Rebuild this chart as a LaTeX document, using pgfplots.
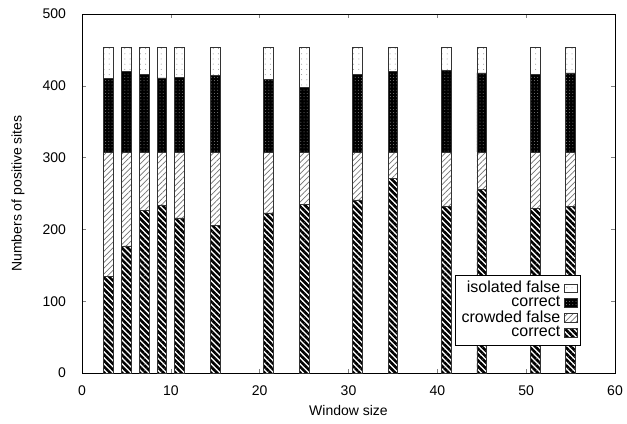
\documentclass[border=0pt]{standalone}
\usepackage{fontspec}
\setmainfont{Liberation Sans}
\usepackage{pgfplots}
\usepackage{pgfplotstable}
\pgfplotsset{compat=1.18}
\usetikzlibrary{patterns.meta}

% window size, correct, crowded false, correct, isolated false
\pgfplotstableread{
x   ca   cf   cb   iso
3   135  173  102  43
5   177  131  112  33
7   227  81   108  37
9   234  74   103  42
11  216  92   104  41
15  205  103  107  38
21  223  85   101  44
25  235  73   90   55
31  241  67   108  37
35  271  37   112  33
41  232  76   114  31
45  256  52   110  35
51  229  79   108  37
55  232  76   110  35
}\sites

\begin{document}
\begin{tikzpicture}
\begin{axis}[
  scale only axis,
  width=266.5pt, height=179.5pt,
  ybar stacked,
  bar width=1.1,
  xmin=0, xmax=60, ymin=0, ymax=500,
  xtick={0,10,...,60},
  ytick={0,100,...,500},
  tick align=inside,
  major tick length=2.2pt,
  axis line style={line width=0.5pt},
  font=\fontsize{7}{8}\selectfont,
  /pgf/number format/assume math mode=true,
  xticklabel style={yshift=-3pt},
  yticklabel style={xshift=-4.5pt},
  xlabel={Window size},
  ylabel={Numbers of positive sites},
  xlabel style={at={([yshift=-18.5pt]axis description cs:0.5,0)}, anchor=center},
  ylabel style={at={([xshift=-32pt]axis description cs:0,0.5)}, anchor=center},
  every axis plot/.append style={draw=black!80, line width=0.35pt},
  reverse legend,
  legend plot pos=right,
  legend cell align=right,
  legend style={at={(0.935,0.076)}, anchor=south east, draw=black, line width=0.4pt,
    inner sep=1pt, row sep=-3.6pt, font=\fontsize{8}{9}\selectfont},
  legend image code/.code={\draw[#1] (0pt,-2.2pt) rectangle (6.5pt,2.2pt);},
]
\addplot[pattern={Lines[angle=-45,distance=2.1pt,line width=1.3pt]}, pattern color=black]
  table[x=x, y=ca] {\sites};
\addplot[pattern={Lines[angle=45,distance=2pt,line width=0.35pt]}, pattern color=black!55]
  table[x=x, y=cf] {\sites};
\addplot[fill=black, postaction={pattern={Dots[distance=1.6pt,radius=0.25pt]}, pattern color=black!50}]
  table[x=x, y=cb] {\sites};
\addplot[pattern={Dots[distance=2.6pt,radius=0.25pt]}, pattern color=black!45]
  table[x=x, y=iso] {\sites};
\legend{correct, crowded false, correct, isolated false}
\end{axis}
\pgfresetboundingbox
\path ([shift={(-41pt,-25pt)}]current axis.south west) rectangle ([shift={(6pt,7pt)}]current axis.north east);
\end{tikzpicture}
\end{document}
